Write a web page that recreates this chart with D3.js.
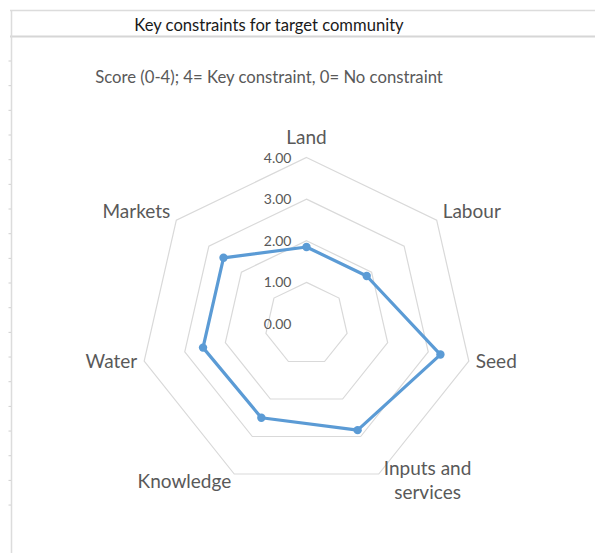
<!DOCTYPE html>
<html>
<head>
<meta charset="utf-8">
<script src="https://cdn.jsdelivr.net/npm/d3@7"></script>
<style>
  body { margin: 0; background: #fff; }
  svg { display: block; font-family: Lato, "Open Sans", sans-serif; }
</style>
</head>
<body>
<div id="chart"></div>
<script>
// categories and scores
const categories = ['Land', 'Labour', 'Seed', 'Inputs and services', 'Knowledge', 'Water', 'Markets'];
const scores = [1.85, 1.85, 3.3, 2.83, 2.5, 2.55, 2.55];
const gridLevels = [1, 2, 3, 4];
const tickValues = [0, 1, 2, 3, 4];

const width = 595, height = 553;
const cx = 306.5, cy = 324, radius = 166.5;

let svg = d3.select('#chart')
  .append('svg')
  .attr('width', width)
  .attr('height', height)
  .style('background', 'white');

// spreadsheet-like frame around the chart
svg.append('line').attr('x1', 10).attr('x2', width).attr('y1', 10.5).attr('y2', 10.5)
  .attr('stroke', '#dcdcdc').attr('stroke-width', 1.5);
svg.append('line').attr('x1', 10).attr('x2', width).attr('y1', 36.5).attr('y2', 36.5)
  .attr('stroke', '#d6d6d6').attr('stroke-width', 2);
svg.append('line').attr('x1', 11.5).attr('x2', 11.5).attr('y1', 10).attr('y2', height)
  .attr('stroke', '#dcdcdc').attr('stroke-width', 1.5);

// small row marks on the left edge
let rowMarks = d3.range(19).map(i => 61 + i * 24.67);
svg.selectAll('.rowmark')
  .data(rowMarks)
  .enter()
  .append('line')
  .attr('x1', 8.5).attr('x2', 11)
  .attr('y1', d => d).attr('y2', d => d)
  .attr('stroke', '#d0d0d0');

// titles
svg.append('text')
  .attr('x', 269).attr('y', 31)
  .attr('text-anchor', 'middle')
  .style('font-size', '16.6px')
  .style('fill', '#1a1a1a')
  .text('Key constraints for target community');

svg.append('text')
  .attr('x', 269).attr('y', 83)
  .attr('text-anchor', 'middle')
  .style('font-size', '16.7px')
  .style('fill', '#595959')
  .text('Score (0-4); 4= Key constraint, 0= No constraint');

// scales
let r = d3.scaleLinear().domain([0, 4]).range([0, radius]);
let angle = d3.scaleBand().domain(categories).range([0, 2 * Math.PI]).align(0).paddingInner(0).paddingOuter(0);

let g = svg.append('g').attr('transform', 'translate(' + cx + ',' + cy + ')');

// grid polygons
let gridLine = d3.lineRadial()
  .angle(d => angle(d))
  .curve(d3.curveLinearClosed);

g.selectAll('.grid')
  .data(gridLevels)
  .enter()
  .append('path')
  .attr('d', lvl => gridLine.radius(r(lvl))(categories))
  .attr('fill', 'none')
  .attr('stroke', '#d9d9d9')
  .attr('stroke-width', 1.2);

// tick labels
g.selectAll('.tick')
  .data(tickValues)
  .enter()
  .append('text')
  .attr('x', -15)
  .attr('y', d => -r(d) + 5)
  .attr('text-anchor', 'end')
  .style('font-size', '14px')
  .style('fill', '#595959')
  .text(d => d3.format('.2f')(d));

// data line
let dataLine = d3.lineRadial()
  .angle((d, i) => angle(categories[i]))
  .radius(d => r(d))
  .curve(d3.curveLinearClosed);

g.append('path')
  .datum(scores)
  .attr('d', dataLine)
  .attr('fill', 'none')
  .attr('stroke', '#5b9bd5')
  .attr('stroke-width', 3.2)
  .attr('stroke-linejoin', 'round');

g.selectAll('.dot')
  .data(scores)
  .enter()
  .append('circle')
  .attr('cx', (d, i) => r(d) * Math.sin(angle(categories[i])))
  .attr('cy', (d, i) => -r(d) * Math.cos(angle(categories[i])))
  .attr('r', 4.2)
  .attr('fill', '#5b9bd5');

// category labels placed just outside the outer polygon
let yShift = [-14, -2, 7, 13, 14, 7, -2];
let xGap = [0, 6, 7, 5, -3, -7, -6];
categories.forEach(function (c, i) {
  let a = angle(c);
  let vx = r(4) * Math.sin(a), vy = -r(4) * Math.cos(a);
  let label = g.append('text')
    .style('font-size', '19px')
    .style('fill', '#595959');
  if (c === 'Inputs and services') {
    let t1 = label.append('tspan').text('Inputs and');
    let w = t1.node().getComputedTextLength();
    let mid = vx + xGap[i] + w / 2;
    label.attr('text-anchor', 'middle');
    t1.attr('x', mid).attr('y', vy + yShift[i] - 12);
    label.append('tspan').attr('x', mid).attr('y', vy + yShift[i] + 12).text('services');
    return;
  }
  let anchor = Math.abs(vx) < 1 ? 'middle' : (vx > 0 ? 'start' : 'end');
  label.attr('x', vx + xGap[i])
    .attr('y', vy + yShift[i])
    .attr('text-anchor', anchor)
    .text(c);
});
</script>
</body>
</html>
